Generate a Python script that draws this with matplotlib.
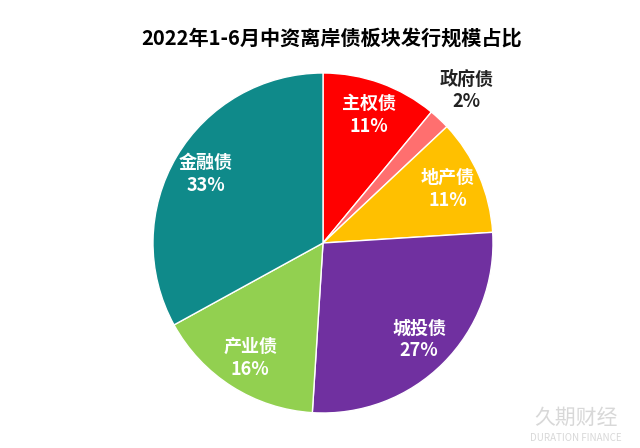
import numpy as np
import matplotlib
matplotlib.use('Agg')
import matplotlib.pyplot as plt

plt.rcParams['font.family'] = ['Noto Sans CJK SC', 'DejaVu Sans']

labels = ['主权债', '政府债', '地产债', '城投债', '产业债', '金融债']
shares = [11, 2, 11, 27, 16, 33]
colors = ['#FF0000', '#FF6F6F', '#FFC000', '#7030A0', '#92D050', '#0F8A8A']
title = '2022年1-6月中资离岸债板块发行规模占比'

fig = plt.figure(figsize=(6.4, 4.48), dpi=100)
fig.patch.set_facecolor('white')

# pie centred at ~(323, 243) px, radius ~170 px
cx, cy, r = 323 / 640, 1 - 243 / 448, 170
ax = fig.add_axes([cx - r / 640, cy - r / 448, 2 * r / 640, 2 * r / 448])
wedges, _ = ax.pie(shares, colors=colors, startangle=90, counterclock=False,
                   wedgeprops=dict(edgecolor='white', linewidth=1))
ax.set_xlim(-1, 1)
ax.set_ylim(-1, 1)
ax.set_aspect('equal')

for w, lab, val in zip(wedges, labels, shares):
    mid = np.deg2rad((w.theta1 + w.theta2) / 2)
    if val < 5:
        dist, col = 1.23, '#222222'
    else:
        dist, col = 0.8, 'white'
    ax.text(dist * np.cos(mid), dist * np.sin(mid), f'{lab}\n{val}%',
            ha='center', va='center', fontsize=13, fontweight='bold',
            color=col, linespacing=1.25)

fig.text(0.518, 1 - 38 / 448, title, ha='center', va='center',
         fontsize=14.5, fontweight='bold', color='black')

# watermark
fig.text(0.9, 1 - 418 / 448, '久期财经', ha='center', va='center',
         fontsize=15, color='#d8d8d8')
fig.text(0.9, 1 - 438 / 448, 'DURATION FINANCE', ha='center', va='center',
         fontsize=7, color='#d8d8d8')

fig.savefig('out.png', dpi=100)
